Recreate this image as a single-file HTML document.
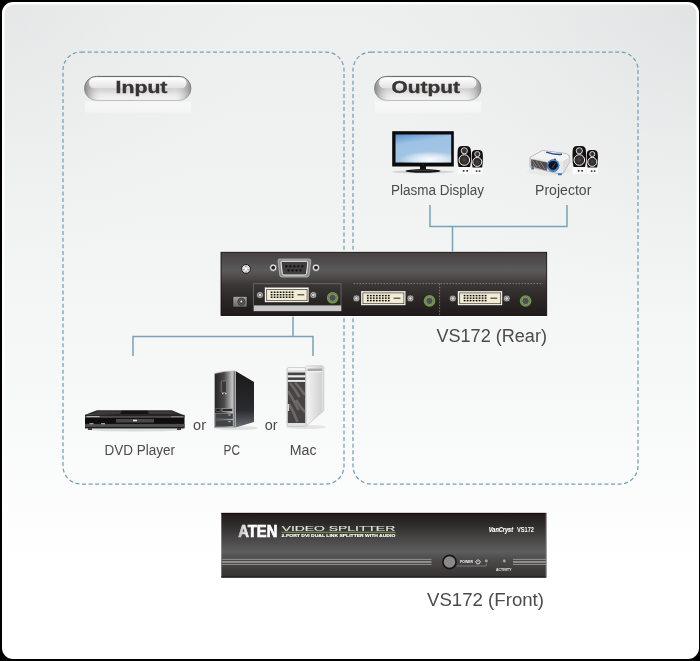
<!DOCTYPE html>
<html><head><meta charset="utf-8">
<style>
html,body{margin:0;padding:0;background:#000;width:700px;height:661px;overflow:hidden}
svg{display:block;will-change:transform}
text{font-family:"Liberation Sans",sans-serif}
</style></head><body>
<svg width="700" height="661" viewBox="0 0 700 661">
<defs>
  <linearGradient id="bg" x1="0" y1="0" x2="0" y2="1">
    <stop offset="0" stop-color="#edeeee"/>
    <stop offset="0.15" stop-color="#eff0f0"/>
    <stop offset="0.35" stop-color="#f2f3f3"/>
    <stop offset="0.6" stop-color="#f7f8f8"/>
    <stop offset="0.86" stop-color="#ffffff"/>
    <stop offset="1" stop-color="#ffffff"/>
  </linearGradient>
  <radialGradient id="bgTR" gradientUnits="userSpaceOnUse" cx="700" cy="0" r="330">
    <stop offset="0" stop-color="#d4d6d8" stop-opacity="0.5"/>
    <stop offset="0.5" stop-color="#dcdedf" stop-opacity="0.22"/>
    <stop offset="1" stop-color="#e6e7e8" stop-opacity="0"/>
  </radialGradient>
  <radialGradient id="bgTL" gradientUnits="userSpaceOnUse" cx="0" cy="0" r="260">
    <stop offset="0" stop-color="#d8dadb" stop-opacity="0.4"/>
    <stop offset="1" stop-color="#e6e7e8" stop-opacity="0"/>
  </radialGradient>
  <linearGradient id="pill" x1="0" y1="0" x2="0" y2="1">
    <stop offset="0" stop-color="#e2e2e2"/>
    <stop offset="0.5" stop-color="#cdcdcd"/>
    <stop offset="0.75" stop-color="#e8e8e8"/>
    <stop offset="1" stop-color="#f6f6f6"/>
  </linearGradient>
  <linearGradient id="pillStroke" x1="0" y1="0" x2="0" y2="1">
    <stop offset="0" stop-color="#4e4e4e"/>
    <stop offset="0.5" stop-color="#8e8e8e"/>
    <stop offset="1" stop-color="#b4b4b4"/>
  </linearGradient>
  <linearGradient id="pillHi" x1="0" y1="0" x2="0" y2="1">
    <stop offset="0" stop-color="#ffffff"/>
    <stop offset="1" stop-color="#e2e2e2"/>
  </linearGradient>
  <linearGradient id="pillside" x1="0" y1="0" x2="1" y2="0">
    <stop offset="0" stop-color="#7a7a7a" stop-opacity="0.85"/>
    <stop offset="0.07" stop-color="#a0a0a0" stop-opacity="0.4"/>
    <stop offset="0.18" stop-color="#ffffff" stop-opacity="0"/>
    <stop offset="0.82" stop-color="#ffffff" stop-opacity="0"/>
    <stop offset="0.93" stop-color="#a0a0a0" stop-opacity="0.35"/>
    <stop offset="1" stop-color="#7a7a7a" stop-opacity="0.75"/>
  </linearGradient>
  <linearGradient id="refl" x1="0" y1="0" x2="0" y2="1">
    <stop offset="0" stop-color="#ffffff" stop-opacity="0.75"/>
    <stop offset="0.85" stop-color="#ffffff" stop-opacity="0.55"/>
    <stop offset="1" stop-color="#ffffff" stop-opacity="0.15"/>
  </linearGradient>
  <linearGradient id="rear" x1="0" y1="0" x2="0" y2="1">
    <stop offset="0" stop-color="#484343"/>
    <stop offset="0.12" stop-color="#4e4b4b"/>
    <stop offset="0.29" stop-color="#5b5a5a"/>
    <stop offset="0.42" stop-color="#4a4646"/>
    <stop offset="0.52" stop-color="#3a3636"/>
    <stop offset="0.75" stop-color="#2c2727"/>
    <stop offset="1" stop-color="#201a1a"/>
  </linearGradient>
  <linearGradient id="front" x1="0" y1="0" x2="0" y2="1">
    <stop offset="0" stop-color="#221a1a"/>
    <stop offset="0.12" stop-color="#2a2424"/>
    <stop offset="0.6" stop-color="#5e5e5e"/>
    <stop offset="0.72" stop-color="#4c4a4a"/>
    <stop offset="1" stop-color="#363131"/>
  </linearGradient>
  <linearGradient id="screen" x1="0" y1="0" x2="0.35" y2="1">
    <stop offset="0" stop-color="#5a94cc"/>
    <stop offset="0.35" stop-color="#9dc2e4"/>
    <stop offset="1" stop-color="#a6c6e4"/>
  </linearGradient>
  <radialGradient id="screenHi" cx="0.62" cy="0.9" r="0.55" gradientTransform="translate(0.62 0.9) scale(1 0.55) translate(-0.62 -0.9)">
    <stop offset="0" stop-color="#ffffff" stop-opacity="0.95"/>
    <stop offset="0.55" stop-color="#ffffff" stop-opacity="0.55"/>
    <stop offset="1" stop-color="#ffffff" stop-opacity="0"/>
  </radialGradient>
  <radialGradient id="lensG" cx="0.5" cy="0.5" r="0.5">
    <stop offset="0.6" stop-color="#1a3f80"/>
    <stop offset="0.85" stop-color="#3f8ad6"/>
    <stop offset="1" stop-color="#2a62b0"/>
  </radialGradient>
  <radialGradient id="wooG" cx="0.5" cy="0.5" r="0.5">
    <stop offset="0" stop-color="#4a4646"/>
    <stop offset="1" stop-color="#231e1e"/>
  </radialGradient>
  <linearGradient id="jackg" x1="0" y1="0" x2="0" y2="1">
    <stop offset="0" stop-color="#a2a2a2"/><stop offset="1" stop-color="#6a6a6a"/>
  </linearGradient>
  <linearGradient id="atenG" x1="0" y1="0" x2="1" y2="0">
    <stop offset="0" stop-color="#bdbdbd"/><stop offset="0.3" stop-color="#ffffff"/><stop offset="1" stop-color="#ffffff"/>
  </linearGradient>
  <linearGradient id="pcFront" x1="0" y1="0" x2="1" y2="0">
    <stop offset="0" stop-color="#262424"/><stop offset="0.45" stop-color="#4a4848"/><stop offset="0.85" stop-color="#c4c4c4"/><stop offset="1" stop-color="#5a5858"/>
  </linearGradient>
  <linearGradient id="pcSide" x1="0" y1="0" x2="0" y2="1">
    <stop offset="0" stop-color="#1a181a"/><stop offset="0.7" stop-color="#2a2c30"/><stop offset="1" stop-color="#6a7078"/>
  </linearGradient>
  <linearGradient id="macSide" x1="0" y1="0" x2="1" y2="0">
    <stop offset="0" stop-color="#f6f6f6"/><stop offset="0.85" stop-color="#d2d2d2"/><stop offset="1" stop-color="#e8e8e8"/>
  </linearGradient>
  <clipPath id="macClip"><rect x="287.8" y="382" width="17.4" height="41"/></clipPath>
</defs>

<!-- background panel -->
<rect x="0" y="0" width="700" height="661" fill="#000"/>
<rect x="2" y="2" width="697" height="657" rx="11" fill="#ffffff"/>
<rect x="4.5" y="4.5" width="692" height="652" rx="9" fill="url(#bg)"/><rect x="4.5" y="4.5" width="692" height="652" rx="9" fill="url(#bgTR)"/><rect x="4.5" y="4.5" width="692" height="652" rx="9" fill="url(#bgTL)"/>

<!-- dashed boxes -->
<g fill="none" stroke="#72a0b9" stroke-width="1.25" stroke-dasharray="4 2.6">
  <rect x="63" y="52" width="281" height="432" rx="18"/>
  <rect x="353" y="52" width="285" height="432" rx="18"/>
</g>

<!-- pills -->
<g id="pillInput">
  <rect x="85.0" y="101.5" width="106" height="11.5" fill="url(#refl)" opacity="0.7"/>
  <rect x="84.5" y="76.4" width="106.5" height="24" rx="12" fill="url(#pill)" stroke="url(#pillStroke)" stroke-width="0.9"/>
  <rect x="84.5" y="76.4" width="106.5" height="24" rx="12" fill="url(#pillside)"/>
  <rect x="89.0" y="77.5" width="97.5" height="10.8" rx="5.4" fill="url(#pillHi)"/>
  <text x="115.6" y="93" font-size="16" font-weight="bold" fill="#393535" stroke="#393535" stroke-width="0.35" textLength="51.8" lengthAdjust="spacingAndGlyphs">Input</text>
</g>
<g id="pillOutput">
  <rect x="375.0" y="101.5" width="106" height="11.5" fill="url(#refl)" opacity="0.7"/>
  <rect x="374.5" y="76.4" width="106.5" height="24" rx="12" fill="url(#pill)" stroke="url(#pillStroke)" stroke-width="0.9"/>
  <rect x="374.5" y="76.4" width="106.5" height="24" rx="12" fill="url(#pillside)"/>
  <rect x="379.0" y="77.5" width="97.5" height="10.8" rx="5.4" fill="url(#pillHi)"/>
  <text x="391.6" y="93" font-size="16" font-weight="bold" fill="#393535" stroke="#393535" stroke-width="0.35" textLength="68.4" lengthAdjust="spacingAndGlyphs">Output</text>
</g>

<!-- connector lines -->
<g fill="none" stroke="#79a2b6" stroke-width="1.5">
  <path d="M430 205 V226.5 H567 V205"/>
  <path d="M452.5 226.5 V253"/>
  <path d="M133 356 V336.5 H313 V356"/>
  <path d="M293 314 V336.5"/>
</g>

<!-- labels -->
<g fill="#4c4a4a" font-size="15.2">
  <text x="391" y="194.6" textLength="93" lengthAdjust="spacingAndGlyphs">Plasma Display</text>
  <text x="535" y="194.6" textLength="56.4" lengthAdjust="spacingAndGlyphs">Projector</text>
  <text x="104.4" y="455.3" textLength="70.5" lengthAdjust="spacingAndGlyphs">DVD Player</text>
  <text x="223.6" y="455.3" textLength="16.4" lengthAdjust="spacingAndGlyphs">PC</text>
  <text x="289.7" y="455.3" textLength="26.8" lengthAdjust="spacingAndGlyphs">Mac</text>
  <text x="193.1" y="430" textLength="12.9" lengthAdjust="spacingAndGlyphs">or</text>
  <text x="264.8" y="430" textLength="12.9" lengthAdjust="spacingAndGlyphs">or</text>
</g>
<g fill="#4c4a4a" font-size="18">
  <text x="436.4" y="342.4" textLength="110.6" lengthAdjust="spacingAndGlyphs">VS172 (Rear)</text>
  <text x="427" y="606" textLength="117" lengthAdjust="spacingAndGlyphs">VS172 (Front)</text>
</g>

<!-- TV -->
<g id="tv">
  <ellipse cx="423" cy="171.8" rx="31" ry="1.6" fill="#d4d4d4"/>
  <rect x="392.2" y="131.2" width="61.6" height="35.3" fill="#0c0a0a"/>
  <rect x="395.5" y="134.5" width="55.7" height="28" fill="url(#screen)"/>
  <rect x="395.5" y="134.5" width="55.7" height="28" fill="url(#screenHi)"/>
  <circle cx="423" cy="164.6" r="0.7" fill="#444"/>
  <rect x="420" y="166" width="6" height="4" fill="#111"/>
  <ellipse cx="423" cy="170.9" rx="17.5" ry="1.8" fill="#161313"/>
  <ellipse cx="423" cy="170.4" rx="12" ry="0.6" fill="#3a3838"/>
</g>

<!-- speakers template -->
<g id="spk1">
  <rect x="457.8" y="166.5" width="13" height="7.5" fill="#fbfbfb"/>
  <rect x="471.9" y="166.5" width="11" height="7.5" fill="#fbfbfb"/>
  <path d="M458.6 167 Q457.2 162 457.5 155 Q457.6 149 458.3 148 Q459 146.1 462 146.1 H466.5 Q469.5 146.1 470.2 148 Q471 149 471.1 155 Q471.4 162 470 167 Z" fill="#140f0f"/>
  <circle cx="464.3" cy="150.8" r="3.1" fill="#3a3636" stroke="#ffffff" stroke-width="0.8"/>
  <circle cx="464.3" cy="160" r="5.3" fill="url(#wooG)" stroke="#ffffff" stroke-width="0.95"/>
  <path d="M472.6 167.6 Q471.5 163 471.7 157 Q471.8 152 472.5 151.5 Q473.2 149.9 475.5 149.9 H479 Q481.4 149.9 482 151.5 Q482.8 152 482.9 157 Q483.1 163 482.1 167.6 Z" fill="#140f0f"/>
  <circle cx="477.3" cy="154.1" r="2.6" fill="#3a3636" stroke="#ffffff" stroke-width="0.8"/>
  <circle cx="477.3" cy="161.9" r="4.5" fill="url(#wooG)" stroke="#ffffff" stroke-width="0.95"/>
  <g fill="#3a3636"><rect x="462.8" y="170" width="1.7" height="1.7"/><rect x="466.3" y="170" width="1.7" height="1.7"/><rect x="475.8" y="170.3" width="1.6" height="1.6"/><rect x="478.8" y="170.3" width="1.6" height="1.6"/></g>
</g>
</g>
<use href="#spk1" x="115" y="0"/>

<!-- Projector -->
<g id="proj">
  <ellipse cx="549" cy="171" rx="22" ry="4.5" fill="#e9e9e9"/>
  <path d="M530 157.4 L542.5 150.5 L566 153.5 Q569.8 154.5 569.8 158 L569.8 161.8 L563.2 173.2 L560 174 L530 167 Z" fill="#e9e9e9" stroke="#8e8e8e" stroke-width="0.6"/>
  <path d="M530.6 157.4 L542.7 151 L566 154 Q568.8 155 568.5 157.5 L563 161.2 Z" fill="#f3f3f3"/>
  <path d="M563 161.2 L569.5 157.5 L569.5 161.8 L563.2 172.8 Z" fill="#dedede"/>
  <path d="M531 159 L547.5 162.3 L547 171 L531 166.5 Z" fill="#4e4a4a" stroke="#c8c8c8" stroke-width="0.5"/>
  <path d="M532.5 160.5 L537 167 M536 160.8 L541 168.5 M540 161.5 L545 169.5 M533 164 L535 167" stroke="#8e8a8a" stroke-width="0.9"/>
  <path d="M546.2 152.1 Q554 154.8 562 154.3" stroke="#1a4696" stroke-width="1.5" fill="none"/>
  <circle cx="553.2" cy="165.6" r="6.3" fill="url(#lensG)"/>
  <circle cx="553.2" cy="165.6" r="4.6" fill="#101216"/>
  <path d="M549.2 168.2 A4.6 4.6 0 0 0 557.6 166.8" fill="none" stroke="#3f7fc4" stroke-width="1.2"/>
  <path d="M552 168 L555.5 163" stroke="#5a96d0" stroke-width="0.8" opacity="0.6"/>
  <circle cx="555" cy="159.3" r="0.9" fill="#333"/>
  <rect x="531.3" y="167.2" width="2.6" height="2.2" fill="#2f6fc2"/>
  <rect x="558" y="173.4" width="3.8" height="1.8" fill="#2f6fc2"/>
</g>

<!-- rear device -->
<g id="rear">
<rect x="220" y="251.5" width="327.7" height="65" fill="#ffffff"/><rect x="221" y="252.3" width="325.7" height="63.2" fill="url(#rear)" stroke="#120e0e" stroke-width="0.9"/>
<circle cx="246" cy="268.9" r="4.4" fill="#e4e4e4" stroke="#141010" stroke-width="0.9"/><circle cx="246" cy="269.2" r="1.1" fill="#ffffff"/><path d="M246 265.6 V267.2 M243.2 270 L244.6 269.3 M248.8 270 L247.4 269.3 M246 271.2 V272.6" stroke="#6a6666" stroke-width="0.9"/>
<circle cx="273.2" cy="267.7" r="3.7" fill="#e6e6e6" stroke="#1a1616" stroke-width="0.5"/><circle cx="273.2" cy="267.7" r="1.9" fill="#262222"/>
<circle cx="316" cy="267.7" r="3.7" fill="#e6e6e6" stroke="#1a1616" stroke-width="0.5"/><circle cx="316" cy="267.7" r="1.9" fill="#262222"/>
<path d="M279.5 259 H309.3 Q311 259 310.8 261 L309 275.3 Q308.7 277 307 277 H281.8 Q280.1 277 279.8 275.3 L278 261 Q277.8 259 279.5 259 Z" fill="#8c8c8c" stroke="#c4c4c4" stroke-width="0.7"/>
<path d="M282.3 261.3 H306.5 Q308 261.3 307.8 263 L306.5 273.5 Q306.3 275 304.8 275 H284 Q282.5 275 282.3 273.5 L281 263 Q280.8 261.3 282.3 261.3 Z" fill="#403e3e" stroke="#f4f4f4" stroke-width="1"/>
<circle cx="286.30" cy="266.3" r="1.15" fill="#0c0c0c"/>
<circle cx="290.32" cy="266.3" r="1.15" fill="#0c0c0c"/>
<circle cx="294.34" cy="266.3" r="1.15" fill="#0c0c0c"/>
<circle cx="298.36" cy="266.3" r="1.15" fill="#0c0c0c"/>
<circle cx="302.38" cy="266.3" r="1.15" fill="#0c0c0c"/>
<circle cx="288.50" cy="270.3" r="1.15" fill="#0c0c0c"/>
<circle cx="292.50" cy="270.3" r="1.15" fill="#0c0c0c"/>
<circle cx="296.50" cy="270.3" r="1.15" fill="#0c0c0c"/>
<circle cx="300.50" cy="270.3" r="1.15" fill="#0c0c0c"/>
<rect x="233" y="296.5" width="14" height="10.5" fill="url(#jackg)" stroke="#1a1616" stroke-width="0.5"/><circle cx="241.4" cy="301.8" r="3.6" fill="#6a6a6a" stroke="#333" stroke-width="0.9"/><circle cx="241.4" cy="301.8" r="1.9" fill="#555" stroke="#2a2a2a" stroke-width="0.6"/><circle cx="241.3" cy="301.5" r="0.9" fill="#f4f4f4"/>
<rect x="253.3" y="283.8" width="87.7" height="27" fill="none" stroke="#7a7676" stroke-width="0.7"/>
<rect x="254" y="305.4" width="87.2" height="5.7" fill="#c9c9c9"/>
<g class="dvi"><rect x="265" y="287.8" width="43.4" height="14.2" fill="#fbfaf4" stroke="#e6e3da" stroke-width="0.4"/><rect x="266.70" y="289.50" width="40.40" height="11.20" fill="#f3ecd4" stroke="#3a342c" stroke-width="0.7"/><rect x="270.70" y="291.50" width="1.75" height="1.45" fill="#0e0c0a"/><rect x="273.70" y="291.50" width="1.75" height="1.45" fill="#0e0c0a"/><rect x="276.70" y="291.50" width="1.75" height="1.45" fill="#0e0c0a"/><rect x="279.70" y="291.50" width="1.75" height="1.45" fill="#0e0c0a"/><rect x="282.70" y="291.50" width="1.75" height="1.45" fill="#0e0c0a"/><rect x="285.70" y="291.50" width="1.75" height="1.45" fill="#0e0c0a"/><rect x="288.70" y="291.50" width="1.75" height="1.45" fill="#0e0c0a"/><rect x="291.70" y="291.50" width="1.75" height="1.45" fill="#0e0c0a"/><rect x="270.70" y="294.00" width="1.75" height="1.45" fill="#0e0c0a"/><rect x="273.70" y="294.00" width="1.75" height="1.45" fill="#0e0c0a"/><rect x="276.70" y="294.00" width="1.75" height="1.45" fill="#0e0c0a"/><rect x="279.70" y="294.00" width="1.75" height="1.45" fill="#0e0c0a"/><rect x="282.70" y="294.00" width="1.75" height="1.45" fill="#0e0c0a"/><rect x="285.70" y="294.00" width="1.75" height="1.45" fill="#0e0c0a"/><rect x="288.70" y="294.00" width="1.75" height="1.45" fill="#0e0c0a"/><rect x="291.70" y="294.00" width="1.75" height="1.45" fill="#0e0c0a"/><rect x="270.70" y="296.50" width="1.75" height="1.45" fill="#0e0c0a"/><rect x="273.70" y="296.50" width="1.75" height="1.45" fill="#0e0c0a"/><rect x="276.70" y="296.50" width="1.75" height="1.45" fill="#0e0c0a"/><rect x="279.70" y="296.50" width="1.75" height="1.45" fill="#0e0c0a"/><rect x="282.70" y="296.50" width="1.75" height="1.45" fill="#0e0c0a"/><rect x="285.70" y="296.50" width="1.75" height="1.45" fill="#0e0c0a"/><rect x="288.70" y="296.50" width="1.75" height="1.45" fill="#0e0c0a"/><rect x="291.70" y="296.50" width="1.75" height="1.45" fill="#0e0c0a"/><rect x="297.40" y="294.25" width="6.8" height="1.1" fill="#3a3530"/></g>
<g><circle cx="260" cy="295" r="3.3" fill="#cdcdcd" stroke="#141010" stroke-width="0.6"/><circle cx="260" cy="295" r="1.8" fill="#d8d8d8" stroke="#5e5a5a" stroke-width="0.75"/></g>
<g><circle cx="313.3" cy="295" r="3.3" fill="#cdcdcd" stroke="#141010" stroke-width="0.6"/><circle cx="313.3" cy="295" r="1.8" fill="#d8d8d8" stroke="#5e5a5a" stroke-width="0.75"/></g>
<circle cx="332.6" cy="297.8" r="5" fill="#4a4a4a" stroke="#6aa03a" stroke-width="1.6"/><circle cx="332.6" cy="297.8" r="3.7" fill="#505050" stroke="#b8c4b0" stroke-width="0.6"/>
<path d="M353.5 283.6 H543 M439.6 283.6 V315" stroke="#a9a9a9" stroke-width="0.6" stroke-dasharray="1.6 1.4" fill="none"/>
<g class="dvi"><rect x="361.2" y="291.2" width="44" height="13.8" fill="#fbfaf4" stroke="#e6e3da" stroke-width="0.4"/><rect x="362.90" y="292.90" width="41.00" height="10.80" fill="#f3ecd4" stroke="#3a342c" stroke-width="0.7"/><rect x="366.90" y="294.90" width="1.75" height="1.45" fill="#0e0c0a"/><rect x="369.90" y="294.90" width="1.75" height="1.45" fill="#0e0c0a"/><rect x="372.90" y="294.90" width="1.75" height="1.45" fill="#0e0c0a"/><rect x="375.90" y="294.90" width="1.75" height="1.45" fill="#0e0c0a"/><rect x="378.90" y="294.90" width="1.75" height="1.45" fill="#0e0c0a"/><rect x="381.90" y="294.90" width="1.75" height="1.45" fill="#0e0c0a"/><rect x="384.90" y="294.90" width="1.75" height="1.45" fill="#0e0c0a"/><rect x="387.90" y="294.90" width="1.75" height="1.45" fill="#0e0c0a"/><rect x="366.90" y="297.40" width="1.75" height="1.45" fill="#0e0c0a"/><rect x="369.90" y="297.40" width="1.75" height="1.45" fill="#0e0c0a"/><rect x="372.90" y="297.40" width="1.75" height="1.45" fill="#0e0c0a"/><rect x="375.90" y="297.40" width="1.75" height="1.45" fill="#0e0c0a"/><rect x="378.90" y="297.40" width="1.75" height="1.45" fill="#0e0c0a"/><rect x="381.90" y="297.40" width="1.75" height="1.45" fill="#0e0c0a"/><rect x="384.90" y="297.40" width="1.75" height="1.45" fill="#0e0c0a"/><rect x="387.90" y="297.40" width="1.75" height="1.45" fill="#0e0c0a"/><rect x="366.90" y="299.90" width="1.75" height="1.45" fill="#0e0c0a"/><rect x="369.90" y="299.90" width="1.75" height="1.45" fill="#0e0c0a"/><rect x="372.90" y="299.90" width="1.75" height="1.45" fill="#0e0c0a"/><rect x="375.90" y="299.90" width="1.75" height="1.45" fill="#0e0c0a"/><rect x="378.90" y="299.90" width="1.75" height="1.45" fill="#0e0c0a"/><rect x="381.90" y="299.90" width="1.75" height="1.45" fill="#0e0c0a"/><rect x="384.90" y="299.90" width="1.75" height="1.45" fill="#0e0c0a"/><rect x="387.90" y="299.90" width="1.75" height="1.45" fill="#0e0c0a"/><rect x="393.60" y="297.65" width="6.8" height="1.1" fill="#3a3530"/></g>
<g><circle cx="356.4" cy="298.4" r="3.3" fill="#cdcdcd" stroke="#141010" stroke-width="0.6"/><circle cx="356.4" cy="298.4" r="1.8" fill="#d8d8d8" stroke="#5e5a5a" stroke-width="0.75"/></g>
<g><circle cx="410.4" cy="298.4" r="3.3" fill="#cdcdcd" stroke="#141010" stroke-width="0.6"/><circle cx="410.4" cy="298.4" r="1.8" fill="#d8d8d8" stroke="#5e5a5a" stroke-width="0.75"/></g>
<circle cx="429.5" cy="300.9" r="5" fill="#4a4a4a" stroke="#6aa03a" stroke-width="1.6"/><circle cx="429.5" cy="300.9" r="3.7" fill="#505050" stroke="#b8c4b0" stroke-width="0.6"/>
<g class="dvi"><rect x="458" y="291.2" width="44" height="13.8" fill="#fbfaf4" stroke="#e6e3da" stroke-width="0.4"/><rect x="459.70" y="292.90" width="41.00" height="10.80" fill="#f3ecd4" stroke="#3a342c" stroke-width="0.7"/><rect x="463.70" y="294.90" width="1.75" height="1.45" fill="#0e0c0a"/><rect x="466.70" y="294.90" width="1.75" height="1.45" fill="#0e0c0a"/><rect x="469.70" y="294.90" width="1.75" height="1.45" fill="#0e0c0a"/><rect x="472.70" y="294.90" width="1.75" height="1.45" fill="#0e0c0a"/><rect x="475.70" y="294.90" width="1.75" height="1.45" fill="#0e0c0a"/><rect x="478.70" y="294.90" width="1.75" height="1.45" fill="#0e0c0a"/><rect x="481.70" y="294.90" width="1.75" height="1.45" fill="#0e0c0a"/><rect x="484.70" y="294.90" width="1.75" height="1.45" fill="#0e0c0a"/><rect x="463.70" y="297.40" width="1.75" height="1.45" fill="#0e0c0a"/><rect x="466.70" y="297.40" width="1.75" height="1.45" fill="#0e0c0a"/><rect x="469.70" y="297.40" width="1.75" height="1.45" fill="#0e0c0a"/><rect x="472.70" y="297.40" width="1.75" height="1.45" fill="#0e0c0a"/><rect x="475.70" y="297.40" width="1.75" height="1.45" fill="#0e0c0a"/><rect x="478.70" y="297.40" width="1.75" height="1.45" fill="#0e0c0a"/><rect x="481.70" y="297.40" width="1.75" height="1.45" fill="#0e0c0a"/><rect x="484.70" y="297.40" width="1.75" height="1.45" fill="#0e0c0a"/><rect x="463.70" y="299.90" width="1.75" height="1.45" fill="#0e0c0a"/><rect x="466.70" y="299.90" width="1.75" height="1.45" fill="#0e0c0a"/><rect x="469.70" y="299.90" width="1.75" height="1.45" fill="#0e0c0a"/><rect x="472.70" y="299.90" width="1.75" height="1.45" fill="#0e0c0a"/><rect x="475.70" y="299.90" width="1.75" height="1.45" fill="#0e0c0a"/><rect x="478.70" y="299.90" width="1.75" height="1.45" fill="#0e0c0a"/><rect x="481.70" y="299.90" width="1.75" height="1.45" fill="#0e0c0a"/><rect x="484.70" y="299.90" width="1.75" height="1.45" fill="#0e0c0a"/><rect x="490.40" y="297.65" width="6.8" height="1.1" fill="#3a3530"/></g>
<g><circle cx="452.8" cy="298.5" r="3.3" fill="#cdcdcd" stroke="#141010" stroke-width="0.6"/><circle cx="452.8" cy="298.5" r="1.8" fill="#d8d8d8" stroke="#5e5a5a" stroke-width="0.75"/></g>
<g><circle cx="506.8" cy="298.5" r="3.3" fill="#cdcdcd" stroke="#141010" stroke-width="0.6"/><circle cx="506.8" cy="298.5" r="1.8" fill="#d8d8d8" stroke="#5e5a5a" stroke-width="0.75"/></g>
<circle cx="525.6" cy="301" r="5" fill="#4a4a4a" stroke="#6aa03a" stroke-width="1.6"/><circle cx="525.6" cy="301" r="3.7" fill="#505050" stroke="#b8c4b0" stroke-width="0.6"/>
</g>

<!-- front device -->
<g id="front">
<rect x="220.3" y="512" width="327" height="66.5" fill="#ffffff"/><rect x="221.3" y="512.9" width="325" height="64.6" fill="url(#front)"/><rect x="221.3" y="512.9" width="325" height="1" fill="#150d0d"/><rect x="221.3" y="576.6" width="325" height="1" fill="#150d0d"/><rect x="545.6" y="513" width="0.9" height="64" fill="#7a7878"/>
<text x="238.3" y="537" font-size="16" font-weight="bold" fill="url(#atenG)" stroke="url(#atenG)" stroke-width="0.7" textLength="39" lengthAdjust="spacingAndGlyphs">ATEN</text>
<text x="281.7" y="530.9" font-size="6.3" fill="#e2e2e2" stroke="#e2e2e2" stroke-width="0.1" textLength="113.5" lengthAdjust="spacingAndGlyphs">VIDEO SPLITTER</text>
<rect x="281.5" y="531.8" width="114" height="0.9" fill="#78b03c"/>
<text x="281.5" y="537.4" font-size="4.3" font-weight="bold" fill="#ffffff" stroke="#ffffff" stroke-width="0.12" textLength="113.8" lengthAdjust="spacingAndGlyphs">2-PORT DVI DUAL LINK SPLITTER WITH AUDIO</text>
<text x="488.8" y="532.1" font-size="6.6" font-weight="bold" font-style="italic" fill="#ffffff" stroke="#ffffff" stroke-width="0.15" textLength="24.2" lengthAdjust="spacingAndGlyphs">VanCryst</text>
<text x="517" y="532.1" font-size="6.6" font-weight="bold" fill="#ffffff" textLength="17" lengthAdjust="spacingAndGlyphs">VS172</text>
<rect x="222" y="558.9" width="209.5" height="0.9" fill="#9b9b9b"/>
<rect x="222" y="561" width="209.5" height="1.9" fill="#8f8f8f"/>
<rect x="222" y="563.9" width="209.5" height="0.9" fill="#9b9b9b"/>
<rect x="513" y="558.9" width="33" height="0.9" fill="#9b9b9b"/>
<rect x="513" y="561" width="33" height="1.9" fill="#8f8f8f"/>
<rect x="513" y="563.9" width="33" height="0.9" fill="#9b9b9b"/>
<circle cx="449.5" cy="562" r="6.6" fill="#8a8888" stroke="#1a1515" stroke-width="1.6"/>
<text x="460" y="563.2" font-size="3.9" font-weight="bold" fill="#f2f2f2" textLength="13.1" lengthAdjust="spacingAndGlyphs">POWER</text>
<path d="M476.6 560.3 A2.1 2.1 0 1 0 479.4 560.3" fill="none" stroke="#fff" stroke-width="0.85"/><path d="M478 559.2 V561.8" stroke="#fff" stroke-width="0.85"/>
<circle cx="486.3" cy="560.9" r="1.8" fill="#a4a4a4" stroke="#2a2626" stroke-width="0.4"/>
<circle cx="504.3" cy="560.9" r="1.8" fill="#a4a4a4" stroke="#2a2626" stroke-width="0.4"/>
<path d="M456.6 566 H486.3 V563.4" fill="none" stroke="#9a9a9a" stroke-width="0.6"/>
<text x="496" y="570.9" font-size="3.7" font-weight="bold" fill="#f2f2f2" textLength="15.4" lengthAdjust="spacingAndGlyphs">ACTIVITY</text>
</g>

<!-- DVD -->
<g id="dvd">
  <ellipse cx="135" cy="429.5" rx="48" ry="2" fill="#c4c4c4" opacity="0.6"/>
  <path d="M85 414.8 L97 410.2 H171.8 L184.4 415.6 Z" fill="#2c2a2a"/>
  <path d="M98 411.5 H121 L120 413.8 H92 Z M148 411.5 H171 L177 413.8 H149 Z" fill="#3e3b3b"/>
  <path d="M122 410.8 H147.5 L148.5 414 H121 Z" fill="#151313"/>
  <rect x="85" y="414.8" width="99.5" height="13.6" fill="#0f0d0d"/>
  <rect x="85" y="415.6" width="99.5" height="2.3" fill="#4a4848"/>
  <rect x="86.5" y="416.2" width="13" height="0.9" fill="#cfcfcf"/>
  <rect x="171" y="416.2" width="12" height="1" fill="#8a8a8a"/>
  <rect x="116" y="418.9" width="38" height="3.7" fill="#4a4848"/>
  <rect x="133" y="419.7" width="4" height="1.6" fill="#e8e8e8"/>
  <rect x="85" y="423.9" width="99.5" height="3.3" fill="#4e4c4c"/>
  <rect x="89.5" y="423.3" width="4" height="0.9" fill="#dcdcdc"/>
  <rect x="101" y="423.3" width="4" height="0.9" fill="#dcdcdc"/>
  <rect x="88" y="428.3" width="4" height="1.5" fill="#1a1818"/>
  <rect x="177" y="428.3" width="4" height="1.5" fill="#1a1818"/>
</g>

<!-- PC -->
<g id="pc">
  <ellipse cx="236" cy="428" rx="22" ry="2" fill="#d0d0d0" opacity="0.6"/>
  <path d="M235.5 371 L254 382 V422 L235.5 427.5 Z" fill="url(#pcSide)"/>
  <path d="M214.5 373.5 Q225 370.5 235.5 371 V427.5 H214.5 Z" fill="url(#pcFront)" stroke="#b8b8b8" stroke-width="0.8"/>
  <rect x="221.2" y="381" width="5.3" height="11.5" rx="1" fill="#3a3838" stroke="#9a9a9a" stroke-width="0.6"/>
  <rect x="222" y="393" width="1.5" height="1.2" fill="#ccc"/><rect x="225" y="393" width="1.5" height="1.2" fill="#ccc"/>
  <rect x="216" y="408.5" width="4" height="2.8" fill="#1a1818" stroke="#999" stroke-width="0.4"/>
  <rect x="222" y="408.5" width="10.5" height="2.8" fill="#2a2828" stroke="#ccc" stroke-width="0.5"/>
  <rect x="215.5" y="413.5" width="17.5" height="5.5" fill="#3f4448" stroke="#aaa" stroke-width="0.4"/>
  <rect x="215.5" y="420" width="17.5" height="6.3" fill="#3f4448" stroke="#aaa" stroke-width="0.4"/>
  <rect x="228.5" y="414.5" width="2" height="1" fill="#ddd"/><rect x="228.5" y="421.2" width="2" height="1" fill="#ddd"/>
</g>

<!-- Mac -->
<g id="mac">
  <ellipse cx="306" cy="427" rx="20" ry="2" fill="#d6d6d6" opacity="0.6"/>
  <path d="M305.4 367.3 Q305.6 365.8 307.5 365.8 H322 Q323.9 365.8 323.9 367.5 V410.6 L306 426.4 Z" fill="url(#macSide)" stroke="#b5b5b5" stroke-width="0.5"/>
  <path d="M307.5 368.6 H322.3 V371.2 H307.5 Z" fill="#a8a8a8"/>
  <path d="M307.5 371.2 H322.3 V372.2 H307.5 Z" fill="#f8f8f8"/>
  <rect x="286.9" y="367.6" width="19.1" height="58.8" rx="1.8" fill="#e2e2e2" stroke="#b0b0b0" stroke-width="0.5"/>
  <rect x="288" y="368.3" width="17" height="1.6" rx="0.8" fill="#fafafa"/>
  <rect x="287.8" y="372.5" width="17.4" height="50.5" fill="#474444"/>
  <rect x="287.8" y="375.2" width="17.4" height="2.2" fill="#ececec"/>
  <rect x="287.8" y="380" width="17.4" height="1.9" fill="#ececec"/>
  <g clip-path="url(#macClip)">
  <path d="M290 383 Q295 389 299.5 397 M288 391 Q293 399 298.5 410 M289 404 Q294 412 297.5 422 M295 382.5 Q300 388 305 395 M296 400 Q300 407 305 412" stroke="#74706f" stroke-width="2.6" fill="none" opacity="0.85"/>
  </g>
  <rect x="287.5" y="404" width="1.6" height="7" fill="#ddd"/>
</g>

</svg>
</body></html>
